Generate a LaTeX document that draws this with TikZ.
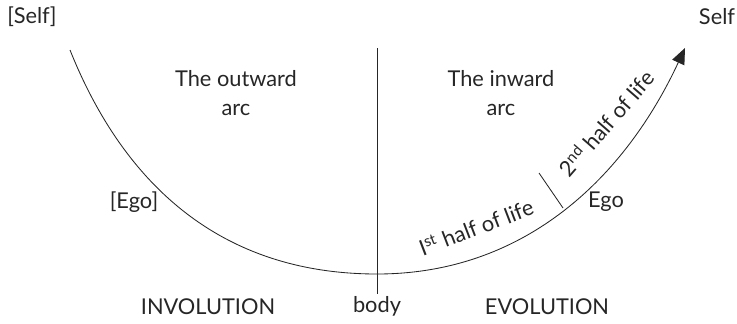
\documentclass[tikz,border=0pt]{standalone}
\usepackage{fontspec}
\setmainfont{Lato}
\usetikzlibrary{arrows.meta}
\usetikzlibrary{positioning}

\tikzset{
  lbl/.style={font=\fontsize{15.5}{20.5}\selectfont,text=black!85,inner sep=1pt},
  arcline/.style={draw=black!85,line width=0.6pt},
}

\begin{document}
\begin{tikzpicture}
\useasboundingbox (0,0) rectangle (18.425,8.075);
\coordinate (top) at (1.75,6.825);
\coordinate (low) at (9.425,1.225);
\coordinate (end) at (17.125,6.875);
\coordinate (axis) at (9.425,6.875);
\coordinate (tickA) at (13.475,3.75);
\coordinate (tickB) at (14.075,2.875);

\draw[arcline] (top) .. controls (3.05,3.575) and (5.425,1.225) .. (low);
\draw[arcline,-{Triangle[length=0.4cm,width=0.33cm]}] (low) .. controls (13.175,1.225) and (15.65,3.7) .. (end);

\node[lbl] (selfL) at (0.8,7.65) {[Self]};
\node[lbl] (selfR) at (17.925,7.65) {Self};
\node[lbl,align=center] (outward) at (5.9,5.75) {The outward\\arc};
\node[lbl,align=center] (inward) at (12.525,5.75) {The inward\\arc};
\node[lbl] (egoL) at (3.35,3.025) {[Ego]};
\node[lbl] (egoR) at (15.15,3.025) {Ego};
\node[lbl] (body) at (9.425,0.425) {body};
\node[lbl] (invol) at (5.2,0.4) {INVOLUTION};
\node[lbl] (evol) at (13.675,0.4) {EVOLUTION};
\node[lbl,rotate=21] (first) at (11.9,2.4) {I\textsuperscript{st} half of life};
\node[lbl,rotate=49] (second) at (15.15,5.0) {2\textsuperscript{nd} half of life};

\draw[arcline] (axis) -- (body.north);
\draw[arcline] (tickA) -- (tickB);

\end{tikzpicture}
\end{document}
